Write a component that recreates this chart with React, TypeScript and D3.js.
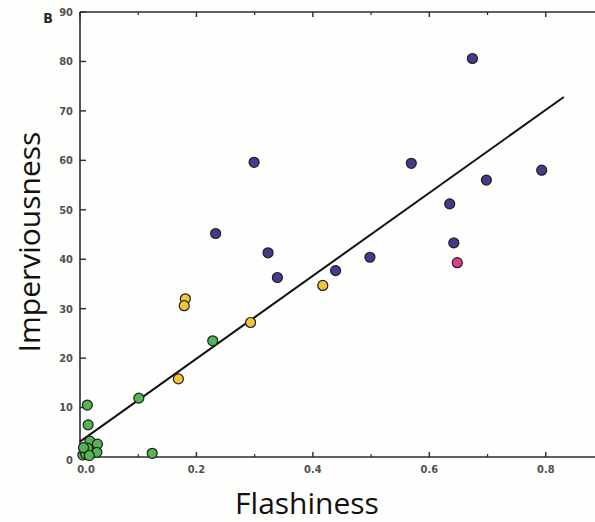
import React from "react";
import * as d3 from "d3";

const W = 595;
const H = 522;

const xTicksMajor = [0, 0.2, 0.4, 0.6, 0.8];
const xTicksMinor = [0.1, 0.3, 0.5, 0.7];
const xTickLabels = ["0.0", "0.2", "0.4", "0.6", "0.8"];
const yTicks = [0, 10, 20, 30, 40, 50, 60, 70, 80, 90];

const blueX = [0.674, 0.299, 0.569, 0.793, 0.698, 0.635, 0.642, 0.233, 0.323, 0.339, 0.498, 0.439];
const blueY = [80.6, 59.6, 59.4, 58.0, 56.0, 51.2, 43.3, 45.2, 41.3, 36.3, 40.4, 37.7];

const pinkX = [0.648];
const pinkY = [39.3];

const yellowX = [0.417, 0.181, 0.179, 0.293, 0.169];
const yellowY = [34.7, 32.0, 30.6, 27.2, 15.8];

const greenX = [0.228, 0.101, 0.0126, 0.014, 0.017, 0.030, 0.029, 0.124, 0.005, 0.008, 0.010, 0.013, 0.006, 0.016];
const greenY = [23.5, 11.9, 10.5, 6.5, 3.2, 2.6, 0.95, 0.75, 0.4, 1.2, 0.6, 1.8, 1.9, 0.3];

const fitX = [0, 0.831];
const fitY = [3.1, 72.8];

const COLORS = {
  blue: "#413d8e",
  pink: "#de3f86",
  yellow: "#f3c33c",
  green: "#55b552",
};

export default function App() {
  const x = d3.scaleLinear().domain([0, 0.9]).range([80, 604]);
  const y = d3.scaleLinear().domain([0, 90]).range([457, 12]);
  const line = d3
    .line<number>()
    .x((d) => x(fitX[d]))
    .y((d) => y(fitY[d]));

  const axisColor = "#2b2b2b";
  const tickFont = "'DejaVu Sans Condensed', 'Liberation Sans Narrow', 'Liberation Sans', sans-serif";

  const groups = [
    { xs: greenX, ys: greenY, c: COLORS.green },
    { xs: yellowX, ys: yellowY, c: COLORS.yellow },
    { xs: blueX, ys: blueY, c: COLORS.blue },
    { xs: pinkX, ys: pinkY, c: COLORS.pink },
  ];

  return (
    <svg
      width={W}
      height={H}
      style={{ position: "absolute", left: 0, top: 0, background: "#fefefd" }}
    >
      <rect x={0} y={0} width={W} height={H} fill="#fefefd" />
      {/* frame */}
      <line x1={x(0)} x2={x(0)} y1={y(90)} y2={y(0)} stroke={axisColor} strokeWidth={1.6} />
      <line x1={x(0)} x2={x(0.9)} y1={y(0)} y2={y(0)} stroke={axisColor} strokeWidth={1.6} />
      <line x1={x(0)} x2={x(0.9)} y1={y(90)} y2={y(90)} stroke={axisColor} strokeWidth={1.6} />
      {/* y ticks */}
      {yTicks.map((t) => (
        <g key={"y" + t}>
          <line x1={x(0)} x2={x(0) + 6} y1={y(t)} y2={y(t)} stroke={axisColor} strokeWidth={1.4} />
          <text
            x={73}
            y={y(t) + (t === 0 ? 3 : 0)}
            dy="0.35em"
            textAnchor="end"
            fontFamily={tickFont}
            fontWeight="bold"
            fontSize={11}
            fill="#505050"
          >
            {t}
          </text>
        </g>
      ))}
      {/* x ticks */}
      {xTicksMajor.map((t, i) => (
        <g key={"x" + t}>
          <line x1={x(t)} x2={x(t)} y1={y(0)} y2={y(0) - 5} stroke={axisColor} strokeWidth={1.4} />
          <line x1={x(t)} x2={x(t)} y1={y(90)} y2={y(90) + 5} stroke={axisColor} strokeWidth={1.4} />
          <text
            x={x(t) + (t === 0 ? 6 : 0)}
            y={473}
            textAnchor="middle"
            fontFamily={tickFont}
            fontWeight="bold"
            fontSize={11}
            fill="#505050"
          >
            {xTickLabels[i]}
          </text>
        </g>
      ))}
      {xTicksMinor.map((t) => (
        <g key={"xm" + t}>
          <line x1={x(t)} x2={x(t)} y1={y(0)} y2={y(0) - 3} stroke={axisColor} strokeWidth={1.2} />
          <line x1={x(t)} x2={x(t)} y1={y(90)} y2={y(90) + 3} stroke={axisColor} strokeWidth={1.2} />
        </g>
      ))}
      {/* panel label */}
      <text x={48} y={23} textAnchor="middle" fontFamily={tickFont} fontWeight="bold" fontSize={14} fill="#2a2a2a">
        B
      </text>
      {/* regression line */}
      <path d={line([0, 1]) || ""} stroke="#111" strokeWidth={2} fill="none" />
      {/* points */}
      {groups.map((g, gi) =>
        g.xs.map((v, i) => (
          <circle
            key={gi + "-" + i}
            cx={x(v)}
            cy={y(g.ys[i])}
            r={5}
            fill={g.c}
            stroke="#1e1e1e"
            strokeWidth={1.2}
          />
        ))
      )}
      {/* axis titles */}
      <text
        x={307}
        y={514}
        textAnchor="middle"
        fontFamily="'Open Sans', 'Noto Sans', sans-serif"
        fontSize={30}
        fill="#111"
      >
        Flashiness
      </text>
      <text
        transform={`translate(40, 242) rotate(-90)`}
        textAnchor="middle"
        fontFamily="'Open Sans', 'Noto Sans', sans-serif"
        fontSize={30}
        fill="#111"
      >
        Imperviousness
      </text>
    </svg>
  );
}
